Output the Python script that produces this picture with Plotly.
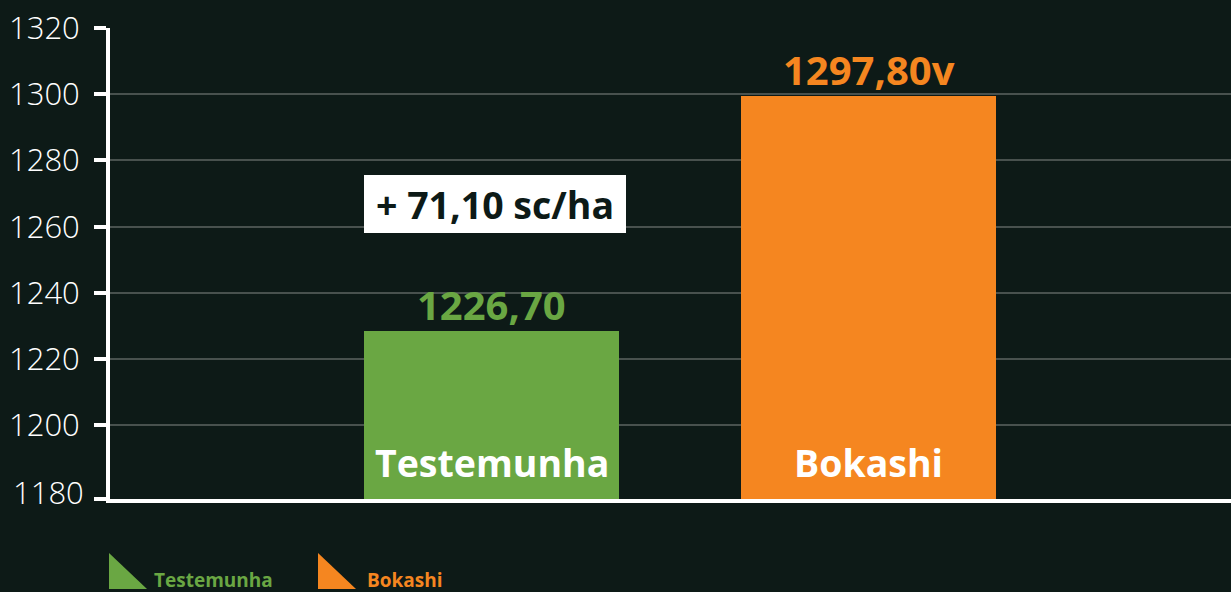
import plotly.graph_objects as go

# ---- data ----
categories = ["Testemunha", "Bokashi"]
bar_values = [1228.6, 1299.6]
value_labels = ["1226,70", "1297,80v"]
bar_colors = ["#6aa743", "#f58620"]
tick_values = [1180, 1200, 1220, 1240, 1260, 1280, 1300, 1320]
tick_labels = ["1180", "1200", "1220", "1240", "1260", "1280", "1300", "1320"]
difference_label = "+ 71,10 sc/ha"

BG = "#0d1a17"
FONT = "Open Sans"
Y_MIN, Y_MAX = 1177.8, 1320

# plot area in pixels (for legend placement helpers)
W, H = 1231, 592
ML, MR, MT, MB = 110, 0, 28, 93
PW, PH = W - ML - MR, H - MT - MB


def px_x(px):
    return (px - ML) / PW


def px_y(py):
    return (H - MB - py) / PH


fig = go.Figure()
fig.add_trace(go.Bar(
    x=categories, y=bar_values,
    marker=dict(color=bar_colors, line=dict(width=0)),
    width=0.676, showlegend=False, hoverinfo="skip",
))

annotations = []
for c, v, t, col in zip(categories, bar_values, value_labels, bar_colors):
    annotations.append(dict(
        x=c, y=v, xref="x", yref="y", text=f"<b>{t}</b>", showarrow=False,
        yanchor="bottom", xanchor="center", yshift=-3,
        font=dict(family=FONT, size=40, color=col),
    ))
    annotations.append(dict(
        x=c, y=Y_MIN, xref="x", yref="y", text=f"<b>{c}</b>", showarrow=False,
        yanchor="bottom", xanchor="center", yshift=9,
        font=dict(family=FONT, size=37.5, color="white"),
    ))

# difference box
annotations.append(dict(
    x=categories[0], y=1266.9, xref="x", yref="y", xshift=3,
    text=f"<b>{difference_label}</b>", showarrow=False,
    bgcolor="white", borderpad=6, borderwidth=0, width=250, height=46,
    font=dict(family=FONT, size=37.5, color=BG),
))

# 1180 label (bottom tick label sits a bit above the axis line)
annotations.append(dict(
    x=0, y=tick_values[0], xref="paper", yref="y", xanchor="right", yanchor="middle",
    xshift=-24, text=tick_labels[0], showarrow=False,
    font=dict(family=FONT, size=31, color="white", weight=300),
))

# manual legend (large right-triangle swatches)
shapes = []
legend_x = [109, 318]
legend_text_x = [152, 365]
for name, col, lx, tx in zip(categories, bar_colors, legend_x, legend_text_x):
    shapes.append(dict(
        type="path", xref="paper", yref="paper",
        xsizemode="pixel", ysizemode="pixel",
        xanchor=px_x(lx), yanchor=px_y(589),
        path="M0,0 L0,36 L38,0 Z", fillcolor=col, line=dict(width=0),
    ))
    annotations.append(dict(
        x=px_x(tx), y=px_y(580), xref="paper", yref="paper",
        xanchor="left", yanchor="middle", text=f"<b>{name}</b>", showarrow=False,
        font=dict(family=FONT, size=19, color=col),
    ))

fig.update_layout(
    width=W, height=H,
    margin=dict(l=ML, r=MR, t=MT, b=MB, pad=0),
    paper_bgcolor=BG, plot_bgcolor=BG,
    showlegend=False,
    annotations=annotations,
    shapes=shapes,
    xaxis=dict(
        range=[-1.012, 1.9615], showgrid=False, zeroline=False,
        showticklabels=False, ticks="",
        showline=True, linecolor="white", linewidth=4,
    ),
    yaxis=dict(
        range=[Y_MIN, Y_MAX],
        tickvals=[Y_MIN] + tick_values[1:],
        ticktext=[""] + tick_labels[1:],
        ticks="outside", ticklen=12, tickwidth=4, tickcolor="white",
        ticklabelstandoff=8,
        showgrid=True, gridcolor="#48514e", gridwidth=2,
        zeroline=False,
        showline=True, linecolor="white", linewidth=4,
        tickfont=dict(family=FONT, size=31, color="white", weight=300),
    ),
    bargap=0,
)

fig.write_html(
    "out.html",
    config={"displayModeBar": False},
    post_script="document.body.style.margin='0';document.body.style.background='#0d1a17';",
)
